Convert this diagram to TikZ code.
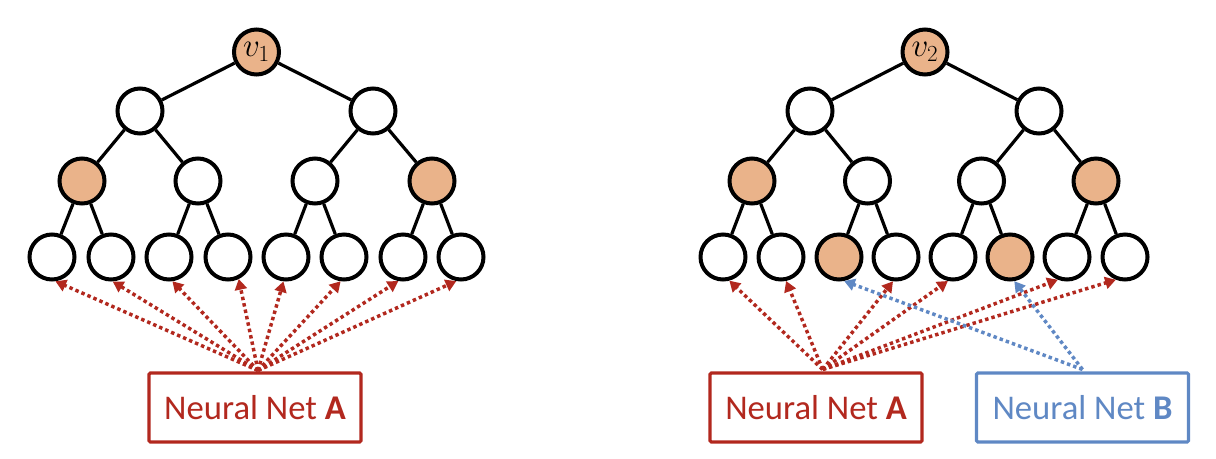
\documentclass[tikz,border=0pt]{standalone}
\usepackage{fontspec}
\setmainfont{Carlito}
\usetikzlibrary{arrows.meta}
\definecolor{nred}{HTML}{B2281E}
\definecolor{nblue}{HTML}{5F88C4}
\definecolor{nfill}{HTML}{EAB38A}
\begin{document}
\begin{tikzpicture}[x=0.75pt,y=-0.75pt,
  tn/.style={circle,draw=black,line width=3pt,fill=white,minimum size=33.75pt,inner sep=0pt},
  hl/.style={tn,fill=nfill},
  edge/.style={line width=2.4pt,black},
  arr/.style={line width=2.6pt,dash pattern=on 2.6pt off 2.3pt,-{Triangle[length=8pt,width=9pt]}},
  rarr/.style={arr,nred},
  barr/.style={arr,nblue},
  netbox/.style={draw,line width=2.3pt,rounded corners=1pt,minimum width=159pt,minimum height=51.75pt,inner sep=0pt,font=\fontsize{26}{26}\selectfont},
  lab/.style={font=\fontsize{26}{26}\selectfont}
]
\useasboundingbox (0,0) rectangle (1216,458);
% ---------- left tree ----------
\node[hl,lab] (r1) at (256.5,52) {$v_1$};
\node[tn] (a1) at (140,111) {};
\node[tn] (a2) at (373,111) {};
\node[hl] (b1) at (82,181) {};
\node[tn] (b2) at (198,181) {};
\node[tn] (b3) at (315,181) {};
\node[hl] (b4) at (432,181) {};
\foreach \i/\x in {1/52,2/111,3/169,4/228,5/286,6/344,7/403,8/461}
  \node[tn] (c\i) at (\x,257) {};
\draw[edge] (r1) -- (a1); \draw[edge] (r1) -- (a2);
\draw[edge] (a1) -- (b1); \draw[edge] (a1) -- (b2);
\draw[edge] (a2) -- (b3); \draw[edge] (a2) -- (b4);
\draw[edge] (b1) -- (c1); \draw[edge] (b1) -- (c2);
\draw[edge] (b2) -- (c3); \draw[edge] (b2) -- (c4);
\draw[edge] (b3) -- (c5); \draw[edge] (b3) -- (c6);
\draw[edge] (b4) -- (c7); \draw[edge] (b4) -- (c8);
% ---------- right tree ----------
\node[hl,lab] (r2) at (925,52) {$v_2$};
\node[tn] (d1) at (810,111) {};
\node[tn] (d2) at (1039,111) {};
\node[hl] (e1) at (752,181) {};
\node[tn] (e2) at (867.5,181) {};
\node[tn] (e3) at (981.5,181) {};
\node[hl] (e4) at (1096,181) {};
\foreach \i/\x in {1/723,2/781,4/896,5/953,7/1067,8/1125}
  \node[tn] (f\i) at (\x,257) {};
\node[hl] (f3) at (839,257) {};
\node[hl] (f6) at (1010,257) {};
\draw[edge] (r2) -- (d1); \draw[edge] (r2) -- (d2);
\draw[edge] (d1) -- (e1); \draw[edge] (d1) -- (e2);
\draw[edge] (d2) -- (e3); \draw[edge] (d2) -- (e4);
\draw[edge] (e1) -- (f1); \draw[edge] (e1) -- (f2);
\draw[edge] (e2) -- (f3); \draw[edge] (e2) -- (f4);
\draw[edge] (e3) -- (f5); \draw[edge] (e3) -- (f6);
\draw[edge] (e4) -- (f7); \draw[edge] (e4) -- (f8);
% ---------- boxes ----------
\node[netbox,draw=nred,text=nred] (nA1) at (255,407.5) {Neural Net \textbf{A}};
\node[netbox,draw=nred,text=nred] (nA2) at (816,407.5) {Neural Net \textbf{A}};
\node[netbox,draw=nblue,text=nblue] (nB) at (1082.5,407.5) {Neural Net \textbf{B}};
\coordinate (sA1) at ([xshift=2.25pt,yshift=0.75pt]nA1.north);
\coordinate (sA2) at ([xshift=5pt,yshift=1.5pt]nA2.north);
\coordinate (sB) at ([yshift=1.5pt]nB.north);
% ---------- arrows ----------
\draw[rarr] (sA1) -- (c1.-82);
\draw[rarr] (sA1) -- (c2.-86);
\draw[rarr] (sA1) -- (c3.-82);
\draw[rarr] (sA1) -- (c4.-64);
\draw[rarr] (sA1) -- (c5.-96);
\draw[rarr] (sA1) -- (c6.-98);
\draw[rarr] (sA1) -- (c7.-101);
\draw[rarr] (sA1) -- (c8.-101);
\draw[rarr] (sA2) -- (f1.-75);
\draw[rarr] (sA2) -- (f2.-78);
\draw[rarr] (sA2) -- (f4.-97);
\draw[rarr] (sA2) -- (f5.-102);
\draw[rarr] (sA2) -- (f7.-112);
\draw[rarr] (sA2) -- (f8.-112);
\draw[barr] (sB) -- (f3.-78);
\draw[barr] (sB) -- (f6.-80);
\end{tikzpicture}
\end{document}
